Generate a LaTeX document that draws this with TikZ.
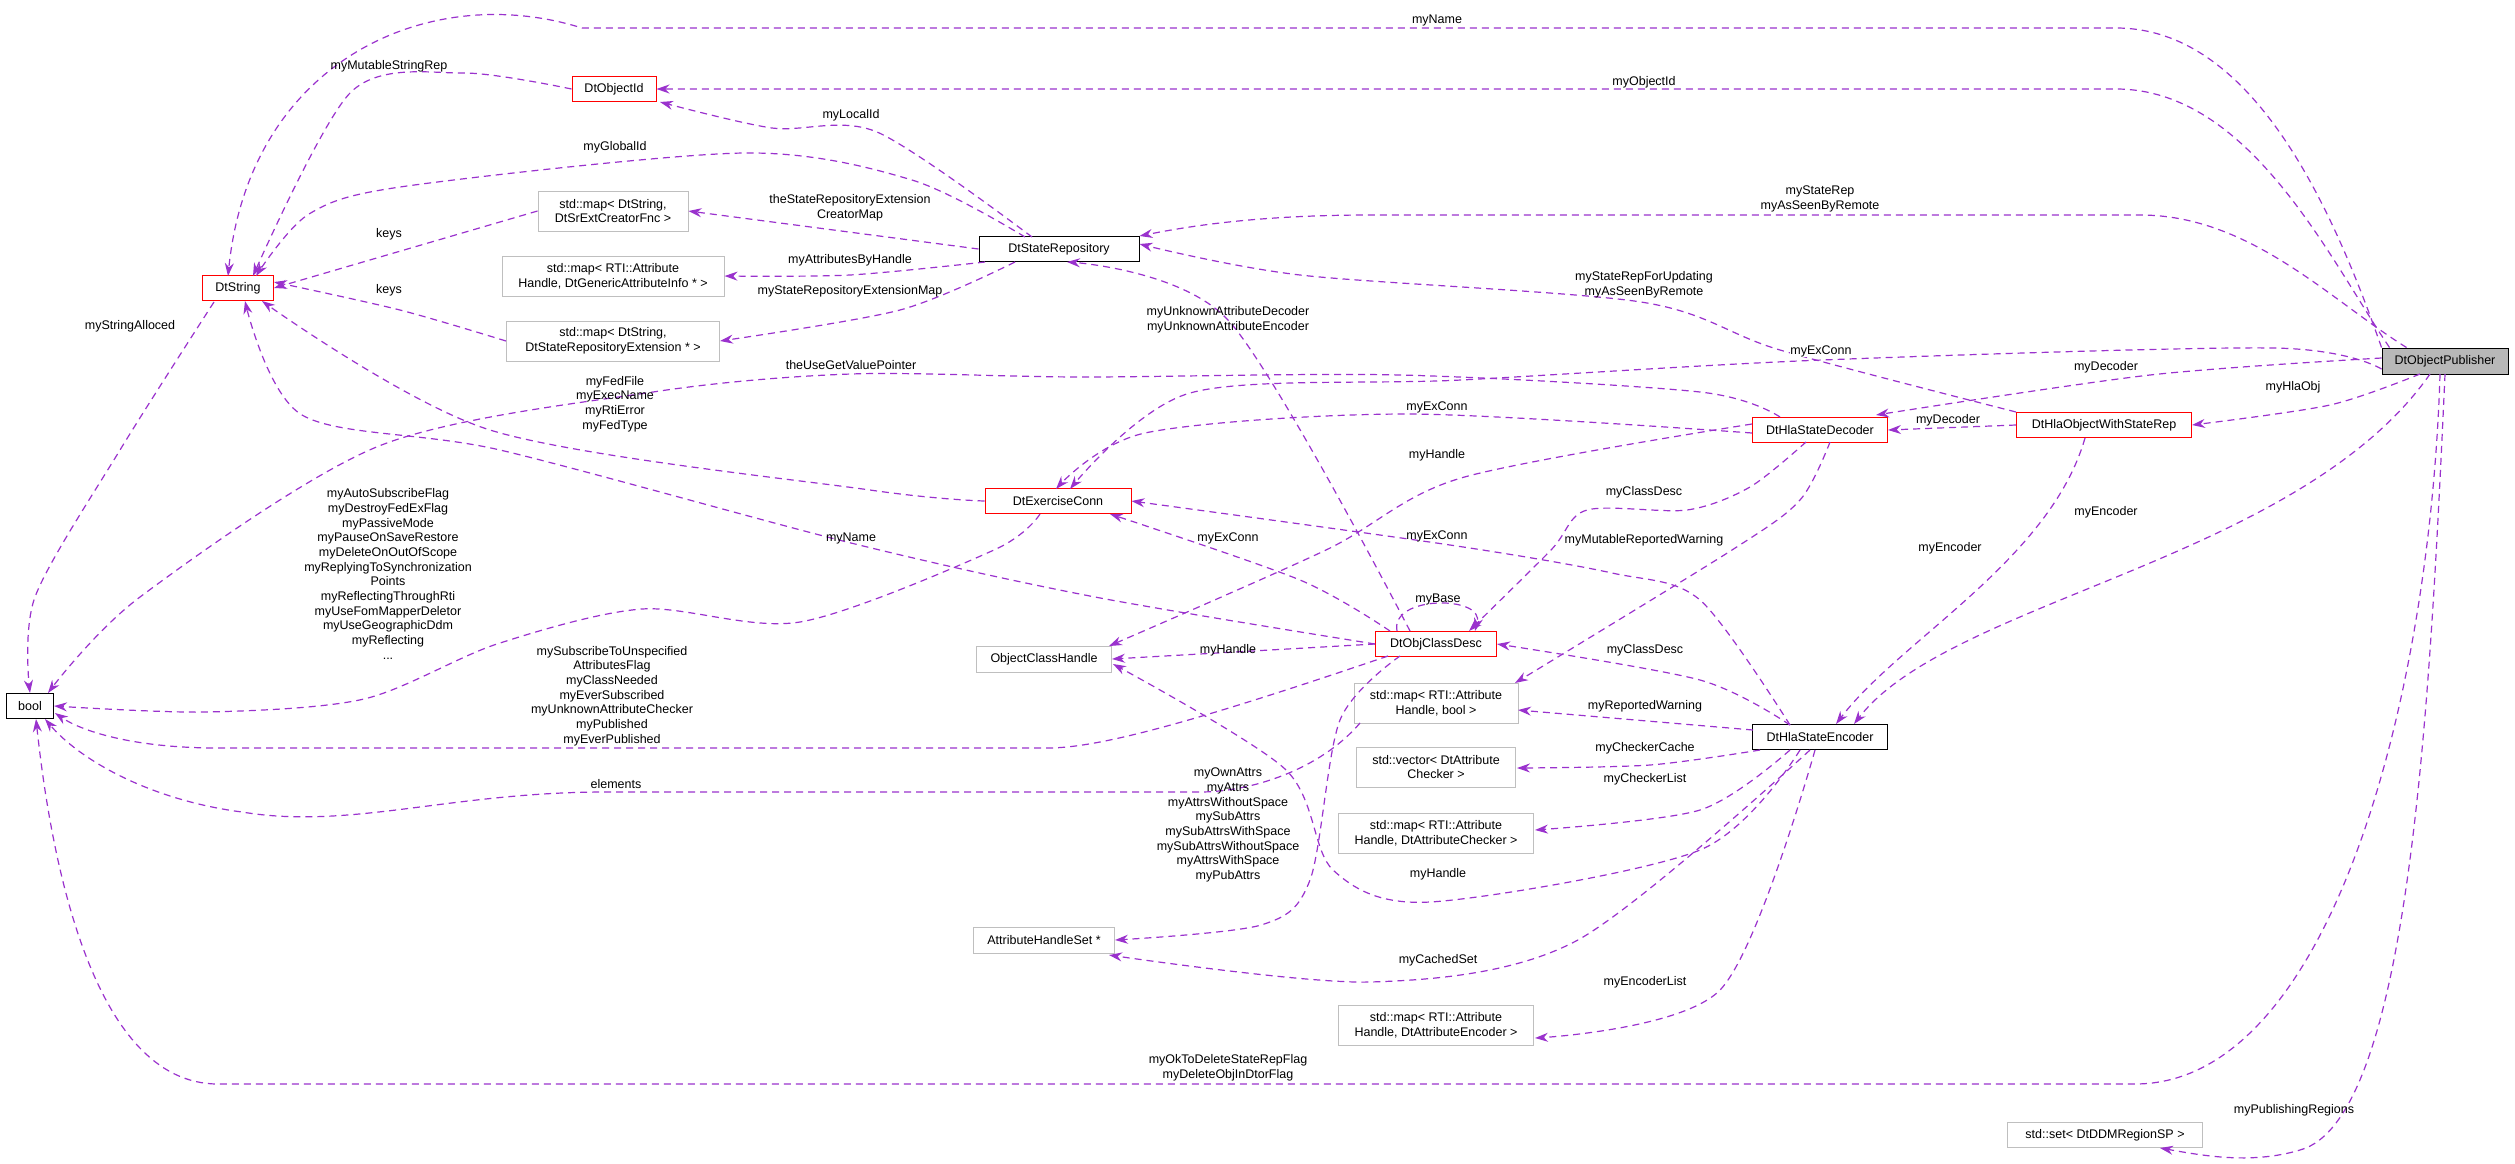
\documentclass[tikz,border=0pt]{standalone}
\usepackage{fontspec}
\setmainfont{Liberation Sans}
\usetikzlibrary{arrows.meta}
\definecolor{edg}{HTML}{9A32CD}
\begin{document}
\begin{tikzpicture}[x=1pt,y=-1pt,
  every node/.style={font=\fontsize{12.5}{14.7}\selectfont,inner sep=2pt},
  box/.style={draw,line width=1pt,minimum height=25pt,align=center,fill=white},
  blk/.style={box,draw=black},
  red/.style={box,draw=red},
  gry/.style={box,draw=black!25,minimum height=40pt},
  e/.style={draw=edg,line width=1.2pt,dash pattern=on 7pt off 5pt,-{Stealth[length=13pt,width=9pt,fill=edg]}},
  lb/.style={align=center,inner sep=0pt}]
\useasboundingbox (0,0) rectangle (2515,1163);
% nodes
\node[blk,fill=black!28,minimum width=126pt,minimum height=26pt] (pub) at (2445,361) {DtObjectPublisher};
\node[red,minimum width=84pt] (oid) at (614,89) {DtObjectId};
\node[red,minimum width=71pt] (str) at (238,288) {DtString};
\node[gry,minimum width=150pt] (msr) at (613,211) {std::map< DtString,\\ DtSrExtCreatorFnc >};
\node[gry,minimum width=222pt] (mga) at (613,276) {std::map< RTI::Attribute\\Handle, DtGenericAttributeInfo * >};
\node[gry,minimum width=213pt] (mse) at (613,341) {std::map< DtString,\\ DtStateRepositoryExtension * >};
\node[blk,minimum width=160pt] (rep) at (1059,249) {DtStateRepository};
\node[red,minimum width=146pt] (exc) at (1058,501) {DtExerciseConn};
\node[red,minimum width=135pt] (dec) at (1820,430) {DtHlaStateDecoder};
\node[red,minimum width=175pt] (wsr) at (2104,425) {DtHlaObjectWithStateRep};
\node[blk,minimum width=47pt] (bool) at (30,706) {bool};
\node[gry,minimum width=135pt,minimum height=26pt] (och) at (1044,659) {ObjectClassHandle};
\node[red,minimum width=121pt] (ocd) at (1436,644) {DtObjClassDesc};
\node[gry,minimum width=164pt] (mrb) at (1436,703) {std::map< RTI::Attribute\\Handle, bool >};
\node[gry,minimum width=159pt] (vac) at (1436,767) {std::vector< DtAttribute\\Checker >};
\node[gry,minimum width=195pt] (mac) at (1436,833) {std::map< RTI::Attribute\\Handle, DtAttributeChecker >};
\node[gry,minimum width=141pt,minimum height=26pt] (ahs) at (1044,940) {AttributeHandleSet *};
\node[gry,minimum width=195pt] (mae) at (1436,1025) {std::map< RTI::Attribute\\Handle, DtAttributeEncoder >};
\node[blk,minimum width=135pt] (enc) at (1820,737) {DtHlaStateEncoder};
\node[gry,minimum width=195pt,minimum height=25pt] (set) at (2105,1135) {std::set< DtDDMRegionSP >};
% edges
\draw[e] (pub.north west) .. controls (2330,200) and (2250,28) .. (2116,28) -- (582,28) .. controls (430,-20) and (250,60) .. (228,276);
\draw[e] ([xshift=8pt]pub.north west) .. controls (2330,260) and (2250,89) .. (2116,89) -- (oid.east);
\draw[e] ([xshift=25pt]pub.north west) .. controls (2330,300) and (2250,215) .. (2140,215) -- (1370,215) .. controls (1250,215) and (1180,228) .. (rep.north east);
\draw[e] plot[smooth,tension=0.5] coordinates {(wsr.north west) (1780,350) (1641,302) (1300,275) ([yshift=5pt]rep.east)};
\draw[e] plot[smooth,tension=0.5] coordinates {([yshift=-8pt]pub.west) (2273,348) (1822,360) (1461,380) (1190,393) (1070,489)};
\draw[e] plot[smooth,tension=0.5] coordinates {([yshift=3pt]pub.west) (2150,375) (1876,415)};
\draw[e] plot[smooth,tension=0.5] coordinates {(2420,374) (2330,405) (wsr.east)};
\draw[e] (wsr.west) -- (dec.east);
\draw[e] (2085,438) .. controls (2050,560) and (1900,640) .. (1836,724);
\draw[e] (2430,374) .. controls (2300,560) and (1950,600) .. (1854,724);
\draw[e] plot[smooth,tension=0.5] coordinates {([yshift=-3pt]dec.west) (1407,414) (1145,433) (1056,489)};
\draw[e] plot[smooth,tension=0.5] coordinates {(1780,417) (1700,392) (1400,375) (1081,377) (851,374) (653,392) (379,446) (140,597) (48,693)};
\draw[e] plot[smooth,tension=0.5] coordinates {([yshift=6pt]dec.west) (1461,478) (1326,550) (1109,646)};
\draw[e] plot[smooth,tension=0.5] coordinates {(1806,442) (1750,487) (1687,510) (1587,510) (1551,550) (1469,631)};
\draw[e] plot[smooth,tension=0.5] coordinates {(1830,442) (1800,500) (1732,550) (1515,683)};
\draw[e] plot[smooth,tension=0.5] coordinates {(1390,631) (1300,580) (1110,514)};
\draw[e] plot[smooth,tension=0.5] coordinates {(1790,725) (1700,600) (1612,573) (1450,545) (exc.east)};
\draw[e] plot[smooth,tension=0.5] coordinates {(ocd.west) (1095,597) (851,543) (500,450) (302,415) (245,301)};
\draw[e] (ocd.west) -- (och.east);
\draw[e] (1388,656) .. controls (1200,720) and (1100,748) .. (1048,748) -- (218,748) .. controls (130,748) and (80,730) .. (55,713);
\draw[e] plot[smooth,tension=0.5] coordinates {(1040,514) (994,550) (800,622) (642,609) (497,644) (364,699) (206,712) (bool.east)};
\draw[e] plot[smooth,tension=0.5] coordinates {(214,302) (120,450) (35,597) (30,693)};
\draw[e] (2440,374) .. controls (2430,700) and (2330,1084) .. (2135,1084) -- (218,1084) .. controls (90,1084) and (50,850) .. (36,719);
\draw[e] (2445,374) .. controls (2430,700) and (2410,1120) .. (2300,1150) .. controls (2250,1165) and (2200,1155) .. (2160,1148);
\draw[e] plot[smooth,tension=0.5] coordinates {(1790,725) (1700,680) (ocd.east)};
\draw[e] (1753,730) -- (1518,710);
\draw[e] plot[smooth,tension=0.5] coordinates {(1760,750) (1650,765) (1517,768)};
\draw[e] plot[smooth,tension=0.5] coordinates {(1790,750) (1700,810) (1535,830)};
\draw[e] plot[smooth,tension=0.5] coordinates {(1800,750) (1700,850) (1430,902) (1333,870) (1285,769) (1113,664)};
\draw[e] plot[smooth,tension=0.5] coordinates {(1810,750) (1576,941) (1370,982) (1109,955)};
\draw[e] plot[smooth,tension=0.5] coordinates {(1815,750) (1720,990) (1535,1038)};
\draw[e] plot[smooth,tension=0.5] coordinates {(1400,656) (1340,720) (1310,880) (1261,925) (ahs.east)};
\draw[e] (1360,723) .. controls (1320,770) and (1250,792) .. (1200,792) -- (606,792) .. controls (450,792) and (350,830) .. (242,812) .. controls (150,800) and (80,760) .. (45,719);
\draw[e] plot[smooth,tension=0.5] coordinates {(oid.west) (463,73) (351,92) (253,276)};
\draw[e] plot[smooth,tension=0.5] coordinates {(1032,237) (877,132) (772,128) (660,102)};
\draw[e] plot[smooth,tension=0.5] coordinates {(1025,237) (912,180) (744,153) (407,186) (309,214) (256,276)};
\draw[e] (msr.west) -- (str.east);
\draw[e] plot[smooth,tension=0.5] coordinates {(mse.west) (400,310) ([yshift=6pt]str.east)};
\draw[e] (rep.west) -- (msr.east);
\draw[e] plot[smooth,tension=0.5] coordinates {(985,262) (850,275) (mga.east)};
\draw[e] plot[smooth,tension=0.5] coordinates {(1015,262) (900,310) (mse.east)};
\draw[e] plot[smooth,tension=0.5] coordinates {(exc.west) (870,490) (490,430) (262,301)};
\draw[e] plot[smooth,tension=0.5] coordinates {(1410,631) (1228,320) (1067,262)};
\draw[e] (1397,631) .. controls (1390,595) and (1485,595) .. (1475,631);
% labels
\node[lb] at (1437,20) {myName};
\node[lb] at (1644,82) {myObjectId};
\node[lb] at (1820,199) {myStateRep\\myAsSeenByRemote};
\node[lb] at (1644,285) {myStateRepForUpdating\\myAsSeenByRemote};
\node[lb] at (1228,320) {myUnknownAttributeDecoder\\myUnknownAttributeEncoder};
\node[lb,fill=white] at (1821,351) {myExConn};
\node[lb] at (2106,367) {myDecoder};
\node[lb] at (2293,387) {myHlaObj};
\node[lb] at (1437,407) {myExConn};
\node[lb] at (1948,420) {myDecoder};
\node[lb] at (1437,455) {myHandle};
\node[lb] at (1644,492) {myClassDesc};
\node[lb] at (2106,512) {myEncoder};
\node[lb] at (1950,548) {myEncoder};
\node[lb] at (1228,538) {myExConn};
\node[lb] at (1437,536) {myExConn};
\node[lb] at (1644,540) {myMutableReportedWarning};
\node[lb] at (389,66) {myMutableStringRep};
\node[lb] at (851,115) {myLocalId};
\node[lb] at (615,147) {myGlobalId};
\node[lb] at (389,234) {keys};
\node[lb] at (389,290) {keys};
\node[lb] at (850,208) {theStateRepositoryExtension\\CreatorMap};
\node[lb] at (850,260) {myAttributesByHandle};
\node[lb] at (850,291) {myStateRepositoryExtensionMap};
\node[lb] at (130,326) {myStringAlloced};
\node[lb] at (851,365) {theUseGetValuePointer};
\node[lb] at (615,404) {myFedFile\\myExecName\\myRtiError\\myFedType};
\node[lb] at (388,574) {myAutoSubscribeFlag\\myDestroyFedExFlag\\myPassiveMode\\myPauseOnSaveRestore\\myDeleteOnOutOfScope\\myReplyingToSynchronization\\Points\\myReflectingThroughRti\\myUseFomMapperDeletor\\myUseGeographicDdm\\myReflecting\\...};
\node[lb] at (851,538) {myName};
\node[lb] at (1438,599) {myBase};
\node[lb] at (1228,650) {myHandle};
\node[lb] at (1645,650) {myClassDesc};
\node[lb] at (1645,706) {myReportedWarning};
\node[lb] at (1645,748) {myCheckerCache};
\node[lb] at (1645,779) {myCheckerList};
\node[lb] at (1438,874) {myHandle};
\node[lb] at (1438,960) {myCachedSet};
\node[lb] at (1645,982) {myEncoderList};
\node[lb] at (1228,1068) {myOkToDeleteStateRepFlag\\myDeleteObjInDtorFlag};
\node[lb] at (616,784) {elements};
\node[lb] at (612,696) {mySubscribeToUnspecified\\AttributesFlag\\myClassNeeded\\myEverSubscribed\\myUnknownAttributeChecker\\myPublished\\myEverPublished};
\node[lb] at (1228,825) {myOwnAttrs\\myAttrs\\myAttrsWithoutSpace\\mySubAttrs\\mySubAttrsWithSpace\\mySubAttrsWithoutSpace\\myAttrsWithSpace\\myPubAttrs};
\node[lb] at (2294,1110) {myPublishingRegions};
\end{tikzpicture}
\end{document}
